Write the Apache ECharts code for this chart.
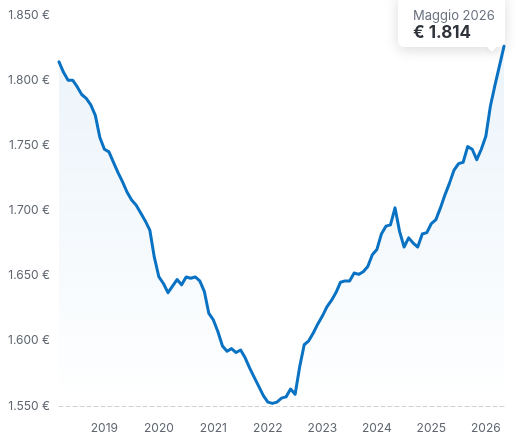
<!DOCTYPE html>
<html>
<head>
<meta charset="utf-8">
<script src="https://cdn.jsdelivr.net/npm/echarts@6/dist/echarts.min.js"></script>
<style>
html,body{margin:0;padding:0;background:#fff;}
#chart{width:515px;height:443px;}
</style>
</head>
<body>
<div id="chart"></div>
<script>
var months = [
'2018-03','2018-04','2018-05','2018-06','2018-07','2018-08','2018-09','2018-10','2018-11','2018-12',
'2019-01','2019-02','2019-03','2019-04','2019-05','2019-06','2019-07','2019-08','2019-09','2019-10','2019-11','2019-12',
'2020-01','2020-02','2020-03','2020-04','2020-05','2020-06','2020-07','2020-08','2020-09','2020-10','2020-11','2020-12',
'2021-01','2021-02','2021-03','2021-04','2021-05','2021-06','2021-07','2021-08','2021-09','2021-10','2021-11','2021-12',
'2022-01','2022-02','2022-03','2022-04','2022-05','2022-06','2022-07','2022-08','2022-09','2022-10','2022-11','2022-12',
'2023-01','2023-02','2023-03','2023-04','2023-05','2023-06','2023-07','2023-08','2023-09','2023-10','2023-11','2023-12',
'2024-01','2024-02','2024-03','2024-04','2024-05','2024-06','2024-07','2024-08','2024-09','2024-10','2024-11','2024-12',
'2025-01','2025-02','2025-03','2025-04','2025-05','2025-06','2025-07','2025-08','2025-09','2025-10','2025-11','2025-12',
'2026-01','2026-02','2026-03','2026-04','2026-05'
];
var prices = [
1814,1806,1800,1800,1795,1789,1786,1781,1773,1756,
1747,1745,1737,1729,1722,1714,1708,1704,1698,1692,
1685,1664,1649,1644,1637,1642,1647,1643,1649,1648,
1649,1646,1638,1621,1616,1607,1596,1592,1594,1591,
1593,1587,1579,1572,1565,1558,1553,1552,1553,1556,
1557,1563,1559,1580,1597,1600,1606,1613,1619,1626,
1631,1637,1645,1646,1646,1652,1651,1653,1657,1666,
1670,1682,1688,1689,1702,1684,1672,1679,1675,1672,
1682,1683,1690,1693,1702,1712,1721,1731,1736,1737,
1749,1747,1739,1747,1757,1780,1796,1811,1826
];
var yTicks = [1550, 1600, 1650, 1700, 1750, 1800, 1850];
var tooltipTitle = 'Maggio 2026';
var tooltipValue = '€ 1.814';

function fmtEuro(v){
  var s = String(Math.round(v));
  return s.replace(/\B(?=(\d{3})+(?!\d))/g, '.') + ' €';
}

var chart = echarts.init(document.getElementById('chart'), null, {renderer:'canvas'});
var FONT = 'Inter, "Noto Sans", sans-serif';
chart.setOption({
  animation: false,
  grid: {left: 59, right: 11, top: 15, bottom: 37},
  xAxis: {
    type: 'category',
    data: months,
    boundaryGap: false,
    axisLine: {show: true, lineStyle: {color: '#cfd3d8', type: [4, 3], width: 1}},
    axisTick: {show: false},
    splitLine: {show: false},
    axisLabel: {
      color: '#5f6670', fontSize: 12, fontFamily: FONT, margin: 16,
      interval: function(idx, val){ return val.slice(5) === '01'; },
      formatter: function(val){ return val.slice(0,4); }
    }
  },
  yAxis: {
    type: 'value',
    min: yTicks[0], max: yTicks[yTicks.length-1], interval: 50,
    axisLine: {show: false},
    axisTick: {show: false},
    splitLine: {show: false},
    axisLabel: {color: '#5f6670', fontSize: 12, fontFamily: FONT, margin: 9, formatter: fmtEuro}
  },
  series: [{
    type: 'line',
    data: prices,
    showSymbol: false,
    smooth: false,
    lineStyle: {color: '#0a72c3', width: 3, join: 'round', cap: 'round'},
    itemStyle: {color: '#0a72c3'},
    areaStyle: {
      origin: 'start',
      color: new echarts.graphic.LinearGradient(0, 0, 0, 1, [
        {offset: 0, color: 'rgba(10,114,195,0.11)'},
        {offset: 0.6, color: 'rgba(10,114,195,0.05)'},
        {offset: 1, color: 'rgba(10,114,195,0.0)'}
      ])
    },
    z: 3
  }],
  graphic: [{
    type: 'group', left: 398, top: -6, z: 100,
    children: [
      {type: 'rect', shape: {x: 0, y: 0, width: 107, height: 53, r: 6},
       style: {fill: '#fff', shadowBlur: 14, shadowColor: 'rgba(0,0,0,0.14)', shadowOffsetY: 3}},
      {type: 'polygon', shape: {points: [[88, 52], [99, 52], [94, 58]]},
       style: {fill: '#fff', shadowBlur: 6, shadowColor: 'rgba(0,0,0,0.08)', shadowOffsetY: 2}},
      {type: 'rect', shape: {x: 84, y: 46, width: 18, height: 6}, style: {fill: '#fff'}},
      {type: 'text', x: 15, y: 22, style: {text: tooltipTitle, fill: '#6b7280', font: '13px ' + FONT, textVerticalAlign: 'middle'}},
      {type: 'text', x: 15, y: 39, style: {text: tooltipValue, fill: '#2f343b', font: 'bold 17px ' + FONT, textVerticalAlign: 'middle'}}
    ]
  }]
});
</script>
</body>
</html>
